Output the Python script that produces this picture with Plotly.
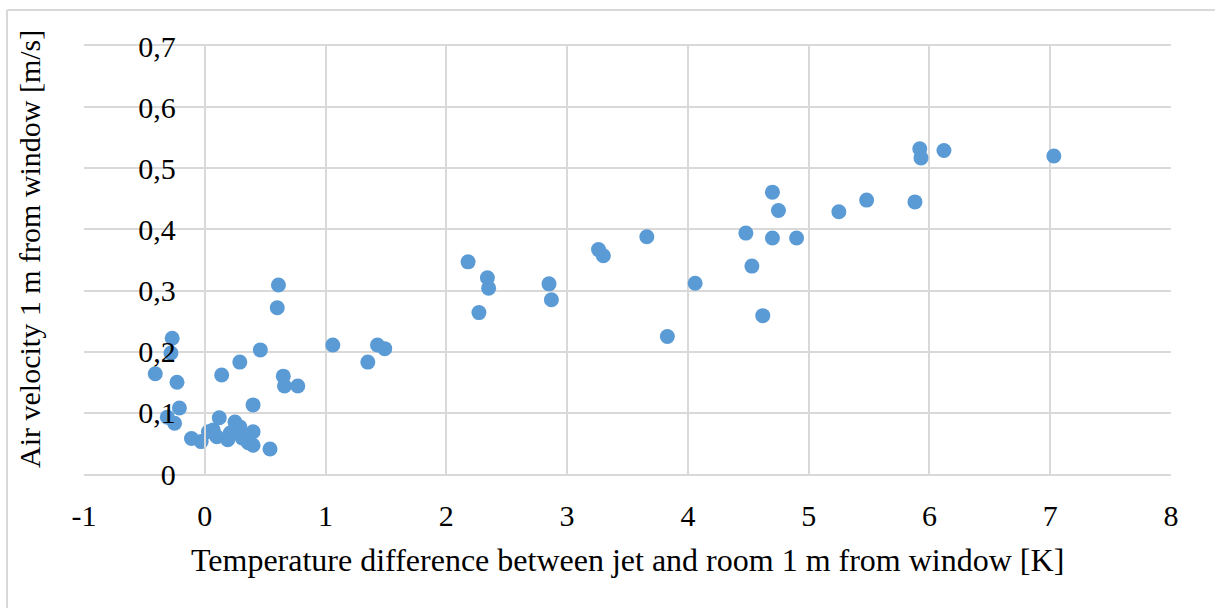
import plotly.graph_objects as go

# Temperature difference [K]
temp_diff = [
    7.03, 5.92, 5.93, 6.12, 5.25, 5.48, 5.88,
    4.70, 4.75, 4.48, 4.70, 4.90, 4.53, 4.62,
    3.66, 4.06, 3.83,
    2.18, 2.34, 2.35, 2.27, 2.85, 2.87, 3.26, 3.30,
    1.43, 1.49, 1.35,
    0.61, 0.60, 1.06, 0.46, 0.29, 0.65, 0.66, 0.77, 0.14,
    -0.27, -0.28, -0.41, -0.23,
    -0.21, -0.31, -0.25,
    -0.11, -0.03, 0.03, 0.07, 0.12, 0.10, 0.19, 0.25, 0.29, 0.21,
    0.31, 0.40, 0.40, 0.36, 0.54, 0.40,
]
# Air velocity [m/s]
air_velocity = [
    0.520, 0.532, 0.517, 0.529, 0.429, 0.448, 0.445,
    0.461, 0.431, 0.394, 0.386, 0.386, 0.340, 0.259,
    0.388, 0.312, 0.225,
    0.347, 0.321, 0.304, 0.264, 0.311, 0.285, 0.367, 0.357,
    0.211, 0.205, 0.183,
    0.309, 0.272, 0.211, 0.203, 0.183, 0.160, 0.144, 0.144, 0.162,
    0.222, 0.198, 0.164, 0.150,
    0.108, 0.093, 0.083,
    0.058, 0.053, 0.069, 0.072, 0.092, 0.061, 0.056, 0.085, 0.077, 0.067,
    0.059, 0.069, 0.047, 0.051, 0.041, 0.113,
]

x_tick_vals = [-1, 0, 1, 2, 3, 4, 5, 6, 7, 8]
x_tick_text = ["-1", "0", "1", "2", "3", "4", "5", "6", "7", "8"]
y_tick_vals = [0, 0.1, 0.2, 0.3, 0.4, 0.5, 0.6, 0.7]
y_tick_text = ["0", "0,1", "0,2", "0,3", "0,4", "0,5", "0,6", "0,7"]

x_title = "Temperature difference between jet and room 1 m from window [K]"
y_title = "Air velocity 1 m from window [m/s]"

FONT = "Liberation Serif, Times New Roman, serif"
GRID = "#D9D9D9"

fig = go.Figure()
fig.add_trace(go.Scatter(
    x=temp_diff, y=air_velocity, mode="markers",
    marker=dict(size=15, color="#5B9BD5", line=dict(width=0)),
    showlegend=False,
))

L, R, T, B = 84, 44, 46, 134
W, H = 1215, 608
pw = W - L - R
ph = H - T - B
ypos = (0 - (-1)) / 9.0

fig.update_layout(
    width=W, height=H,
    margin=dict(l=L, r=R, t=T, b=B),
    paper_bgcolor="white", plot_bgcolor="white",
    font=dict(family=FONT, size=30, color="#000000"),
    xaxis=dict(
        range=[-1, 8], tickvals=x_tick_vals, ticktext=x_tick_text,
        showgrid=True, gridcolor=GRID, gridwidth=2,
        zeroline=False, showline=True, linecolor=GRID, linewidth=2, mirror=True,
        ticks="", ticklabelstandoff=14,
        tickfont=dict(family=FONT, size=30),
    ),
    yaxis=dict(
        range=[0, 0.7], tickvals=y_tick_vals, ticktext=y_tick_text,
        showgrid=True, gridcolor=GRID, gridwidth=2,
        zeroline=False, showline=True, linecolor=GRID, linewidth=2,
        anchor="free", position=ypos,
        ticks="", ticklabelstandoff=22,
        tickfont=dict(family=FONT, size=30),
    ),
    annotations=[
        dict(text=x_title, xref="paper", yref="paper",
             x=0.5, y=(0 - (560 - (H - B))) / ph, xanchor="center", yanchor="middle",
             showarrow=False, font=dict(family=FONT, size=32)),
        dict(text=y_title, xref="paper", yref="paper",
             x=(29 - L) / pw, y=((H - B) - 249) / ph, xanchor="center", yanchor="middle",
             textangle=-90, showarrow=False, font=dict(family=FONT, size=30)),
    ],
    shapes=[
        dict(type="line", xref="paper", yref="paper",
             x0=(7 - L) / pw, x1=(W + 5 - L) / pw, y0=((H - B) - 10) / ph, y1=((H - B) - 10) / ph,
             line=dict(color=GRID, width=2)),
        dict(type="line", xref="paper", yref="paper",
             x0=(7 - L) / pw, x1=(7 - L) / pw, y0=((H - B) - 10) / ph, y1=((H - B) - (H + 5)) / ph,
             line=dict(color=GRID, width=2)),
    ],
)

fig.write_html("out.html")
